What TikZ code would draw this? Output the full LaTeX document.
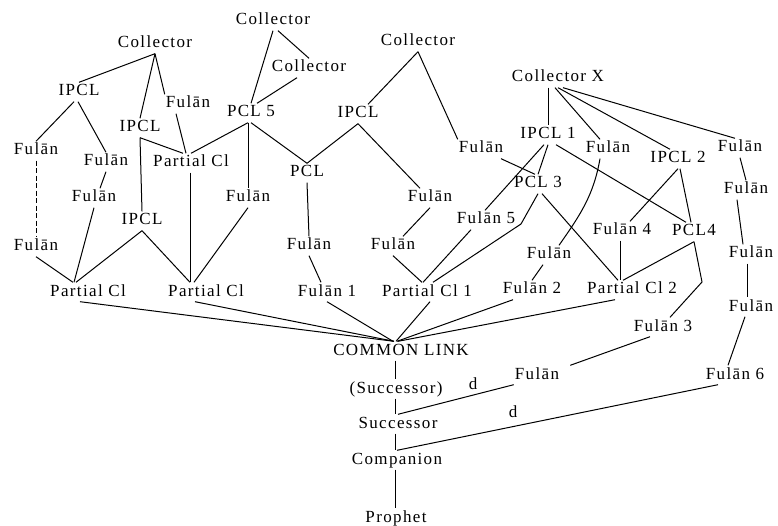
\documentclass[tikz,border=0pt]{standalone}
\usepackage{fontspec}
\setmainfont{Liberation Serif}[LetterSpace=8]
\begin{document}
\begin{tikzpicture}[x=1pt,y=-1pt,
  lbl/.style={font=\fontsize{17}{20}\selectfont, text height=11pt, text depth=3pt,
              inner xsep=1pt, inner ysep=2.5pt},
  link/.style={line width=1pt, black},
  broken/.style={link, dash pattern=on 5pt off 2.5pt}]
\useasboundingbox (0,0) rectangle (778,526);

% ---------- transmitters ----------
\node[lbl] (cA)   at (155,44)  {Collector};
\node[lbl] (cB)   at (273,21)  {Collector};
\node[lbl] (cC)   at (309,68)  {Collector};
\node[lbl] (cD)   at (418,42)  {Collector};
\node[lbl] (cX)   at (558,78)  {Collector X};

\node[lbl] (ipA)  at (79,92)   {IPCL};
\node[lbl] (fA)   at (188,104) {Fulān};
\node[lbl] (pcl5) at (251,113) {PCL 5};
\node[lbl] (ipB)  at (140,128) {IPCL};
\node[lbl] (ipC)  at (358,114) {IPCL};
\node[lbl] (fB)   at (36,151)  {Fulān};
\node[lbl] (fC)   at (106,162) {Fulān};
\node[lbl] (pcA)  at (191,163) {Partial Cl};
\node[lbl] (pclA) at (307,173) {PCL};
\node[lbl] (fD)   at (481,149) {Fulān};
\node[lbl] (ip1)  at (548,135) {IPCL 1};
\node[lbl] (fE)   at (608,149) {Fulān};
\node[lbl] (ip2)  at (678,159) {IPCL 2};
\node[lbl] (fR1)  at (740,148) {Fulān};
\node[lbl] (fR2)  at (746,190) {Fulān};
\node[lbl] (pcl3) at (538,184) {PCL 3};
\node[lbl] (f5)   at (486,220) {Fulān 5};
\node[lbl] (fF)   at (94,198)  {Fulān};
\node[lbl] (fG)   at (248,198) {Fulān};
\node[lbl] (fH)   at (430,198) {Fulān};
\node[lbl] (ipD)  at (142,221) {IPCL};
\node[lbl] (fI)   at (36,247)  {Fulān};
\node[lbl] (fJ)   at (309,246) {Fulān};
\node[lbl] (fK)   at (393,246) {Fulān};
\node[lbl] (f4)   at (622,231) {Fulān 4};
\node[lbl] (pcl4) at (694,232) {PCL4};
\node[lbl] (fR3)  at (751,254) {Fulān};
\node[lbl] (fL)   at (549,255) {Fulān};
\node[lbl] (pcB)  at (88,292)  {Partial Cl};
\node[lbl] (pcC)  at (206,292) {Partial Cl};
\node[lbl] (f1)   at (327,292) {Fulān 1};
\node[lbl] (pc1)  at (427,292) {Partial Cl 1};
\node[lbl] (f2)   at (532,290) {Fulān 2};
\node[lbl] (pc2)  at (632,290) {Partial Cl 2};
\node[lbl] (fR4)  at (751,307) {Fulān};
\node[lbl] (f3)   at (663,327) {Fulān 3};
\node[lbl] (cl)   at (401,351) {COMMON LINK};
\node[lbl] (fM)   at (537,375) {Fulān};
\node[lbl] (f6)   at (735,375) {Fulān 6};
\node[lbl] (sp)   at (396,389) {(Successor)};
\node[lbl] (d1)   at (473,385) {d};
\node[lbl] (sc)   at (398,424) {Successor};
\node[lbl] (d2)   at (513,413) {d};
\node[lbl] (cp)   at (397,460) {Companion};
\node[lbl] (pr)   at (396,518) {Prophet};

\coordinate (bendA) at (521,224);
\coordinate (bendB) at (702,282);

% ---------- left cluster ----------
\draw[link] (cA.south) -- (ipA.north);
\draw[link] (cA.south) -- (ipB.north);
\draw[link] (cA.south) -- (fA.north west);
\draw[link] ([xshift=-12pt]fA.south) -- ([xshift=-5pt]pcA.north);
\draw[link] (ipB.south) -- ([xshift=-8pt]pcA.north);
\draw[link] ([xshift=-3pt]pcl5.south) -- (pcA.north);
\draw[link] ([xshift=-5pt]ipA.south) -- (fB.north);
\draw[link] ([xshift=-1pt]ipA.south) -- (fC.north);
\draw[broken] (fB.south) -- (fI.north);
\draw[link] (fC.south) -- ([xshift=6pt]fF.north);
\draw[link] (fF.south) -- ([xshift=-14pt]pcB.north);
\draw[link] (fI.south) -- ([xshift=-15pt]pcB.north);
\draw[link] (ipD.south) -- ([xshift=-12pt]pcB.north);
\draw[link] (ipB.south) -- (ipD.north);
\draw[link] (ipD.south) -- ([xshift=-16pt]pcC.north);
\draw[link] ([xshift=-1pt]pcA.south) -- ([xshift=-16pt]pcC.north);
\draw[link] (fG.south) -- ([xshift=-12pt]pcC.north);
\draw[link] ([xshift=-3pt]pcl5.south) -- (fG.north);
\draw[link] (pcl5.south) -- (pclA.north);
\draw[link] (cB.south) -- (pcl5.north);
\draw[link] ([xshift=5pt]cB.south) -- (cC.north);
\draw[link] ([xshift=-12pt]cC.south) -- ([xshift=6pt]pcl5.north);

% ---------- middle cluster ----------
\draw[link] (cD.south) -- ([xshift=10pt]ipC.north);
\draw[link] (cD.south) -- (fD.north west);
\draw[link] (ipC.south) -- (pclA.north);
\draw[link] (ipC.south) -- ([xshift=-10pt]fH.north);
\draw[link] (pclA.south) -- (fJ.north);
\draw[link] (fJ.south) -- ([xshift=-6pt]f1.north);
\draw[link] (fH.south) -- ([xshift=10pt]fK.north);
\draw[link] (fK.south) -- ([xshift=-5pt]pc1.north);

% ---------- right cluster ----------
\draw[link] ([xshift=-10pt]cX.south) -- (ip1.north);
\draw[link] ([xshift=-3pt]cX.south) -- ([xshift=-8pt]fE.north);
\draw[link] (cX.south) -- ([xshift=-8pt]ip2.north);
\draw[link] ([xshift=5pt]cX.south) -- ([xshift=-5pt]fR1.north);
\draw[link] ([xshift=-4pt]ip1.south) -- ([xshift=-1pt]f5.north);
\draw[link] ([xshift=-15pt]f5.south) -- ([xshift=-4pt]pc1.north);
\draw[link] (ip1.south) -- (pcl3.north);
\draw[link] ([xshift=20pt]fD.south) -- ([xshift=-3pt]pcl3.north);
\draw[link] (pcl3.south) -- (bendA) -- ([xshift=6pt]pc1.north);
\draw[link] ([xshift=8pt]ip1.south) -- ([xshift=-8pt]pcl4.north);
\draw[link] (ip2.south) -- ([xshift=8pt]f4.north);
\draw[link] ([xshift=2pt]ip2.south) -- ([xshift=-3pt]pcl4.north);
\draw[link] ([xshift=-8pt]fE.south) to[out=-100,in=55] ([xshift=10pt]fL.north);
\draw[link] ([xshift=4pt]pcl3.south) -- ([xshift=-14pt]pc2.north);
\draw[link] ([xshift=-2pt]f4.south) -- ([xshift=-12pt]pc2.north);
\draw[link] (pcl4.south) -- ([xshift=-9pt]pc2.north);
\draw[link] (pcl4.south) -- (bendB) -- ([xshift=7pt]f3.north);
\draw[link] ([xshift=-6pt]fL.south) -- (f2.north);
\draw[link] ([xshift=-13pt]f3.south) -- ([xshift=10pt]fM.north east);
\draw[link] (fR1.south) -- (fR2.north);
\draw[link] ([xshift=-9pt]fR2.south) -- ([xshift=-8pt]fR3.north);
\draw[link] ([xshift=-4pt]fR3.south) -- ([xshift=-4pt]fR4.north);
\draw[link] ([xshift=-6pt]fR4.south) -- ([xshift=-7pt]f6.north);

% ---------- into the common link ----------
\draw[link] ([xshift=-8pt]pcB.south) -- ([xshift=-7pt]cl.north);
\draw[link] ([xshift=-11pt]pcC.south) -- ([xshift=-7pt]cl.north);
\draw[link] (f1.south) -- ([xshift=-8pt]cl.north);
\draw[link] ([xshift=3pt]pc1.south) -- ([xshift=-5pt]cl.north);
\draw[link] ([xshift=-19pt]f2.south) -- ([xshift=-4pt]cl.north);
\draw[link] ([xshift=-17pt]pc2.south) -- ([xshift=-3pt]cl.north);

% ---------- down to the Prophet ----------
\draw[link] ([xshift=-6pt]cl.south) -- ([xshift=-1pt]sp.north);
\draw[link] ([xshift=-1pt]sp.south) -- ([xshift=-3pt]sc.north);
\draw[link] ([xshift=-3pt]sc.south) -- ([xshift=-2pt]cp.north);
\draw[link] ([xshift=-2pt]cp.south) -- ([xshift=-1pt]pr.north);
\draw[link] (fM.south west) -- (sc.north);
\draw[link] ([xshift=-17pt]f6.south) -- (cp.north);
\end{tikzpicture}
\end{document}
